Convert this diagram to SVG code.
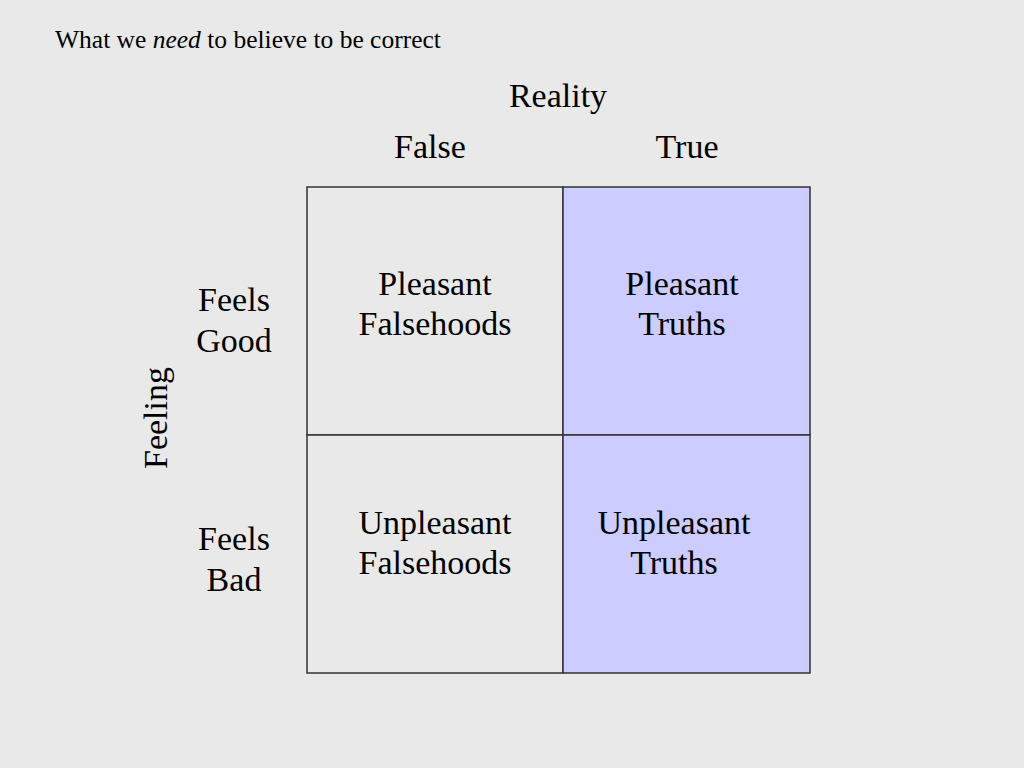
<svg xmlns="http://www.w3.org/2000/svg" width="1024" height="768" viewBox="0 0 1024 768">
<style>
text{font-family:"Liberation Serif","Times New Roman",serif;fill:#000}
.t{font-size:34px;text-anchor:middle}
.cell{stroke:#333;stroke-width:1.5}
</style>
<rect width="1024" height="768" fill="#e9e9e9"/>
<text x="55" y="48" style="font-size:25.5px">What we <tspan font-style="italic">need</tspan> to believe to be correct</text>
<text class="t" x="558" y="107">Reality</text>
<text class="t" x="430" y="158">False</text>
<text class="t" x="687" y="158">True</text>
<g id="cell-pf"><rect class="cell" x="307" y="187" width="256" height="248" fill="#e9e9e9"/>
<text class="t" x="435" y="295">Pleasant</text><text class="t" x="435" y="335">Falsehoods</text></g>
<g id="cell-pt"><rect class="cell" x="563" y="187" width="247" height="248" fill="#ccccff"/>
<text class="t" x="682" y="295">Pleasant</text><text class="t" x="682" y="335">Truths</text></g>
<g id="cell-uf"><rect class="cell" x="307" y="435" width="256" height="238" fill="#e9e9e9"/>
<text class="t" x="435" y="534">Unpleasant</text><text class="t" x="435" y="574">Falsehoods</text></g>
<g id="cell-ut"><rect class="cell" x="563" y="435" width="247" height="238" fill="#ccccff"/>
<text class="t" x="674" y="534">Unpleasant</text><text class="t" x="674" y="574">Truths</text></g>
<g id="row-good"><text class="t" x="234" y="311">Feels</text><text class="t" x="234" y="352">Good</text></g>
<g id="row-bad"><text class="t" x="234" y="550">Feels</text><text class="t" x="234" y="591">Bad</text></g>
<text class="t" transform="translate(167,418) rotate(-90)">Feeling</text>
<g id="connectors"/>
</svg>
